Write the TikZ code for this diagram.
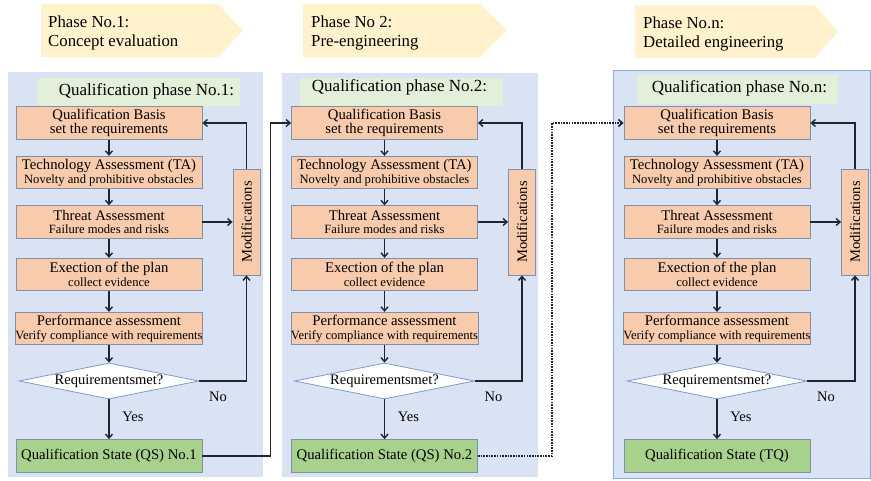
\documentclass[tikz,border=0pt]{standalone}
\usepackage{fontspec}
\setmainfont{Liberation Serif}
\usetikzlibrary{arrows.meta,shapes.geometric}
\definecolor{panelbg}{HTML}{DAE3F3}
\definecolor{panelline}{HTML}{8FAADC}
\definecolor{boxfill}{HTML}{F8CBAD}
\definecolor{boxline}{HTML}{7F90A8}
\definecolor{qsfill}{HTML}{A9D18E}
\definecolor{lblfill}{HTML}{E2EFD9}
\definecolor{phasefill}{HTML}{FFF2CC}
\definecolor{dialine}{HTML}{7C9BD0}
\definecolor{linec}{HTML}{1E2633}
\newcommand\subf{\fontsize{12.6}{13.6}\selectfont}
\newcommand\qpanel[4]{%
  \node[qbox] (qb#1) at (#2,123) {Qualification Basis\\set the requirements};
  \node[qbox] (ta#1) at (#2,172.5) {Technology Assessment (TA)\\\subf Novelty and prohibitive obstacles};
  \node[qbox] (th#1) at (#2,222) {Threat Assessment\\\subf Failure modes and risks};
  \node[qbox] (ex#1) at (#2,274.5) {Exection of the plan\\\subf collect evidence};
  \node[qbox] (pa#1) at (#2,328.5) {Performance assessment\\\subf Verify compliance with requirements};
  \node[dia] (dm#1) at (#2,381) {Requirementsmet?};
  \node[qsbox] (qs#1) at (#2,456) {#4};
  \node[modbox] (md#1) at (#3,222) {Modifications};
  \node[txt] (no#1) at (#2+109,397) {No};
  \node[txt] (ye#1) at (#2+24,417) {Yes};
  \draw[arr] (qb#1) -- (ta#1);
  \draw[arr] (ta#1) -- (th#1);
  \draw[arr] (th#1) -- (ex#1);
  \draw[arr] (ex#1) -- (pa#1);
  \draw[arr] (pa#1) -- (dm#1);
  \draw[arr] (dm#1) -- (qs#1);
  \draw[arr] (th#1.east) -- (th#1.east -| md#1.north);
  \draw[arr] (dm#1.east) -| (md#1.west);
  \draw[arr] (md#1.east) |- (qb#1.east);
}
\begin{document}
\begin{tikzpicture}[x=1pt,y=-1pt,
  qbox/.style={draw=boxline, fill=boxfill, line width=0.8pt, minimum width=186pt, minimum height=32.5pt, inner sep=0pt, align=center, font=\fontsize{14.7}{13.6}\selectfont},
  qsbox/.style={draw=boxline, fill=qsfill, line width=0.8pt, minimum width=186pt, minimum height=33pt, inner sep=0pt, font=\fontsize{14.7}{16}\selectfont},
  modbox/.style={draw=boxline, fill=boxfill, line width=0.8pt, minimum width=106pt, minimum height=27pt, inner sep=0pt, rotate=90, font=\fontsize{14.6}{16}\selectfont},
  dia/.style={diamond, draw=dialine, fill=white, line width=0.8pt, minimum width=180pt, minimum height=36pt, aspect=5, inner sep=0pt, font=\fontsize{14.5}{16}\selectfont},
  txt/.style={inner sep=0pt, font=\fontsize{14.5}{16}\selectfont},
  lbl/.style={inner sep=0pt, font=\fontsize{17}{19}\selectfont},
  phase/.style={inner sep=0pt, align=left, anchor=west, font=\fontsize{16.8}{19}\selectfont},
  line/.style={draw=linec, line width=1.4pt},
  arr/.style={line, -{Straight Barb[length=4pt,width=7pt]}},
  dotarr/.style={draw=linec, line width=1.6pt, dash pattern=on 1.6pt off 1.1pt, -{Straight Barb[length=4pt,width=7pt]}}
]
\useasboundingbox (0,0) rectangle (871,480);
\fill[white] (0,0) rectangle (871,480);
% phase headers
\fill[phasefill] (41,4) -- (218,4) -- (243,30.5) -- (218,57) -- (41,57) -- cycle;
\fill[phasefill] (303,4) -- (480,4) -- (507,30.5) -- (480,57) -- (303,57) -- cycle;
\fill[phasefill] (635,5) -- (815,5) -- (838,31.5) -- (815,58) -- (635,58) -- cycle;
\node[phase] (ph1) at (48,32.6) {Phase No.1:\\Concept evaluation};
\node[phase] (ph2) at (311,32.6) {Phase No 2:\\Pre-engineering};
\node[phase] (ph3) at (643,33.6) {Phase No.n:\\Detailed engineering};
% panels
\fill[panelbg] (8,72) rectangle (263,477);
\fill[panelbg] (282,73) rectangle (538,477);
\filldraw[fill=panelbg, draw=panelline, line width=0.8pt] (613,70) rectangle (870,478);
% labels
\fill[lblfill] (38,78) rectangle (240,106);
\fill[lblfill] (300,78) rectangle (503,106);
\fill[lblfill] (637,75) rectangle (838,104);
\node[lbl] (l1) at (146.5,91) {Qualification phase No.1:};
\node[lbl] (l2) at (399.5,87.5) {Qualification phase No.2:};
\node[lbl] (l3) at (739.5,88) {Qualification phase No.n:};
% panels content
\qpanel{1}{109}{246.5}{Qualification State (QS) No.1}
\qpanel{2}{384.5}{522}{Qualification State (QS) No.2}
\qpanel{3}{717}{855}{Qualification State (TQ)}
% cross-panel connectors
\draw[arr] (qs1.east) -- ++(68,0) |- (qb2.west);
\draw[dotarr] (qs2.east) -- ++(74,0) |- (qb3.west);
\end{tikzpicture}
\end{document}
